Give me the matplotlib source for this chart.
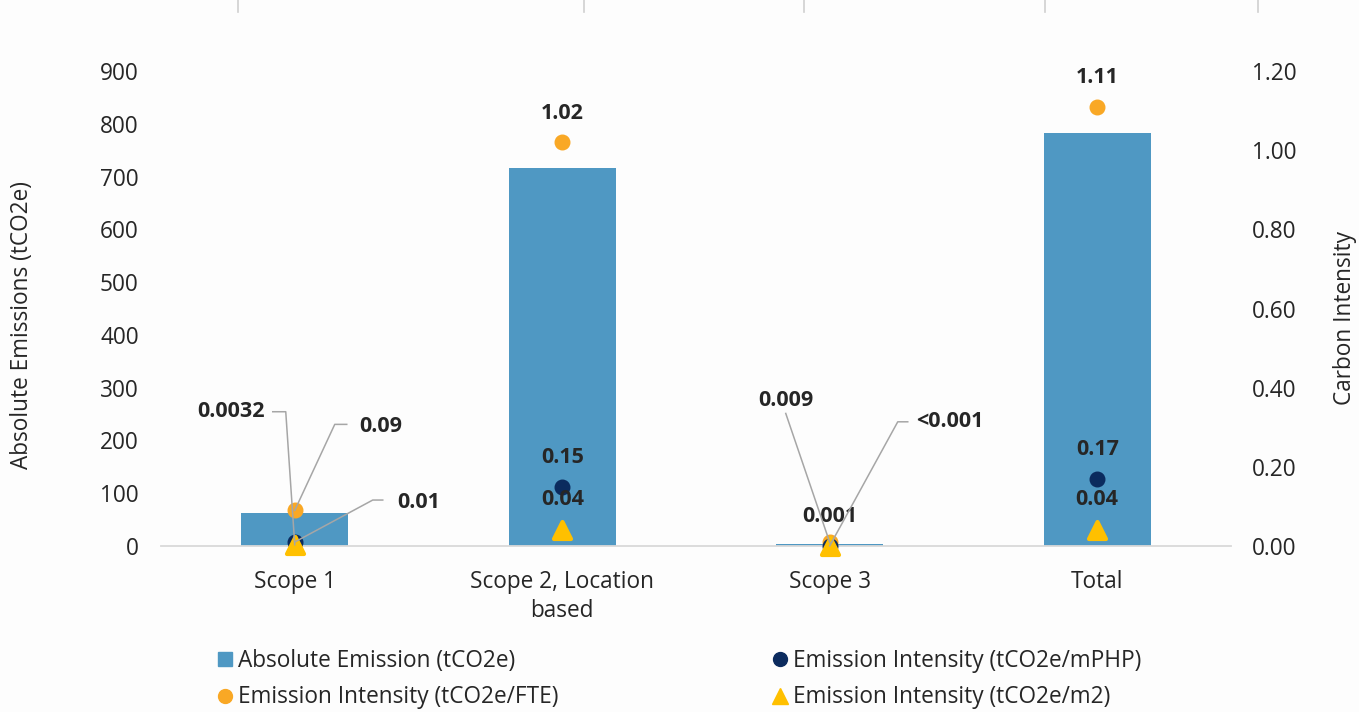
import matplotlib
matplotlib.use("Agg")
import matplotlib.pyplot as plt
from matplotlib.lines import Line2D
from matplotlib.patches import Patch
import matplotlib.transforms as mtransforms
import numpy as np

plt.rcParams["font.family"] = ["Open Sans", "DejaVu Sans"]

categories = ["Scope 1", "Scope 2, Location\nbased", "Scope 3", "Total"]
absolute = [62, 717, 4, 783]          # tCO2e
fte = [0.09, 1.02, 0.009, 1.11]       # tCO2e/FTE
mphp = [0.01, 0.15, 0.001, 0.17]      # tCO2e/mPHP
m2 = [0.0032, 0.04, 0.0005, 0.04]     # tCO2e/m2
fte_lbl = ["0.09", "1.02", "0.009", "1.11"]
mphp_lbl = ["0.01", "0.15", "0.001", "0.17"]
m2_lbl = ["0.0032", "0.04", "<0.001", "0.04"]

BAR = "#4f98c3"
NAVY = "#0b2b5e"
ORANGE = "#f9a825"
YELLOW = "#ffc000"
GRID = "#d9d9d9"
TXT = "#262626"
FS = 16.3

fig = plt.figure(figsize=(13.59, 7.12), dpi=100, facecolor="#fdfdfd")
ax = fig.add_axes([161 / 1359, 1 - 546 / 712, 1070 / 1359, 475 / 712])
ax.set_facecolor("none")
x = np.arange(len(categories))

ax.bar(x, absolute, width=0.4, color=BAR, zorder=2)
ax.set_xlim(-0.5, 3.5)
ax.set_ylim(0, 900)
ax.set_yticks(range(0, 901, 100))
ax.set_xticks(x)
ax.set_xticklabels(categories, fontsize=FS, color=TXT, linespacing=1.3)
for s in ["top", "left", "right"]:
    ax.spines[s].set_visible(False)
ax.spines["bottom"].set_color(GRID)
ax.spines["bottom"].set_linewidth(1.3)
ax.tick_params(axis="both", length=0, labelsize=FS, labelcolor=TXT)
ax.tick_params(axis="y", pad=16)
ax.tick_params(axis="x", pad=17)

ax2 = ax.twinx()
ax2.set_ylim(0, 1.2)
ax2.set_yticks(np.arange(0, 1.21, 0.2))
ax2.yaxis.set_major_formatter(matplotlib.ticker.FormatStrFormatter("%.2f"))
for s in ax2.spines.values():
    s.set_visible(False)
ax2.tick_params(axis="y", length=0, labelsize=FS, labelcolor=TXT, pad=15)

ax2.scatter(x, fte, s=110, color=ORANGE, zorder=4, clip_on=False)
ax2.scatter(x, mphp, s=110, color=NAVY, zorder=4, clip_on=False)
ax2.scatter(x, m2, s=150, marker="^", color=YELLOW, edgecolor=YELLOW,
            linewidth=3, joinstyle="round", zorder=4, clip_on=False)

lbl_kw = dict(fontsize=15.5, fontweight="bold", color=TXT, zorder=6,
              annotation_clip=False)


def above(xi, yi, text, dy=29):
    ax2.annotate(text, (xi, yi), xytext=(0, dy), textcoords="offset pixels",
                 ha="center", va="center", **lbl_kw)


def leader(xi, yi, text, path, tdx, tdy, ha):
    # leader line drawn in pixel offsets from the marker
    px, py = ax2.transData.transform((xi, yi))
    xs = [px] + [px + dx for dx, dy in path]
    ys = [py] + [py + dy for dx, dy in path]
    fig.add_artist(Line2D(xs, ys, color="#a6a6a6", lw=1.1,
                          transform=mtransforms.IdentityTransform(), zorder=5))
    ax2.annotate(text, (xi, yi), xytext=(tdx, tdy), textcoords="offset pixels",
                 ha=ha, va="center", **lbl_kw)


# middle-sized bars: plain labels above each marker
for i in (1, 3):
    above(x[i], fte[i], fte_lbl[i])
    above(x[i], mphp[i], mphp_lbl[i])
    above(x[i], m2[i], m2_lbl[i], dy=31)

# Scope 1: crowded near zero, use leaders
leader(x[0], m2[0], m2_lbl[0], [(-9, 133), (-22, 133)], -30, 133, "right")
leader(x[0], fte[0], fte_lbl[0], [(40, 86), (52, 86)], 64, 84, "left")
leader(x[0], mphp[0], mphp_lbl[0], [(78, 42), (88, 42)], 102, 40, "left")

# Scope 3
leader(x[2], fte[2], fte_lbl[2], [(-44, 129)], -44, 142, "center")
leader(x[2], m2[2], m2_lbl[2], [(68, 124), (78, 124)], 86, 124, "left")
above(x[2], mphp[2], mphp_lbl[2])

fig.text(22 / 1359, 1 - 325 / 712, "Absolute Emissions (tCO2e)", rotation=90,
         ha="center", va="center", fontsize=FS, color=TXT)
fig.text(1345 / 1359, 1 - 318 / 712, "Carbon Intensity", rotation=90,
         ha="center", va="center", fontsize=FS, color=TXT)

# short rule marks along the top edge
for xp in [238, 584, 804, 1045, 1258]:
    fig.add_artist(Line2D([xp / 1359] * 2, [1, 1 - 12 / 712], color="#d0d0d0",
                          lw=1.2, transform=fig.transFigure))

h_abs = Patch(color=BAR, label="Absolute Emission (tCO2e)")
h_fte = Line2D([], [], ls="none", marker="o", ms=10, color=ORANGE,
               label="Emission Intensity (tCO2e/FTE)")
h_mphp = Line2D([], [], ls="none", marker="o", ms=10, color=NAVY,
                label="Emission Intensity (tCO2e/mPHP)")
h_m2 = Line2D([], [], ls="none", marker="^", ms=12, color=YELLOW,
              label="Emission Intensity (tCO2e/m2)")

leg_kw = dict(loc="center left", frameon=False, fontsize=FS, handlelength=0.6,
              handleheight=0.6, handletextpad=0.25, labelspacing=0.55,
              borderpad=0, labelcolor=TXT)
fig.legend(handles=[h_abs, h_fte], bbox_to_anchor=(207 / 1359, 1 - 679 / 712), **leg_kw)
fig.legend(handles=[h_mphp, h_m2], bbox_to_anchor=(762 / 1359, 1 - 679 / 712), **leg_kw)

fig.savefig("out.png", dpi=100, facecolor=fig.get_facecolor())
